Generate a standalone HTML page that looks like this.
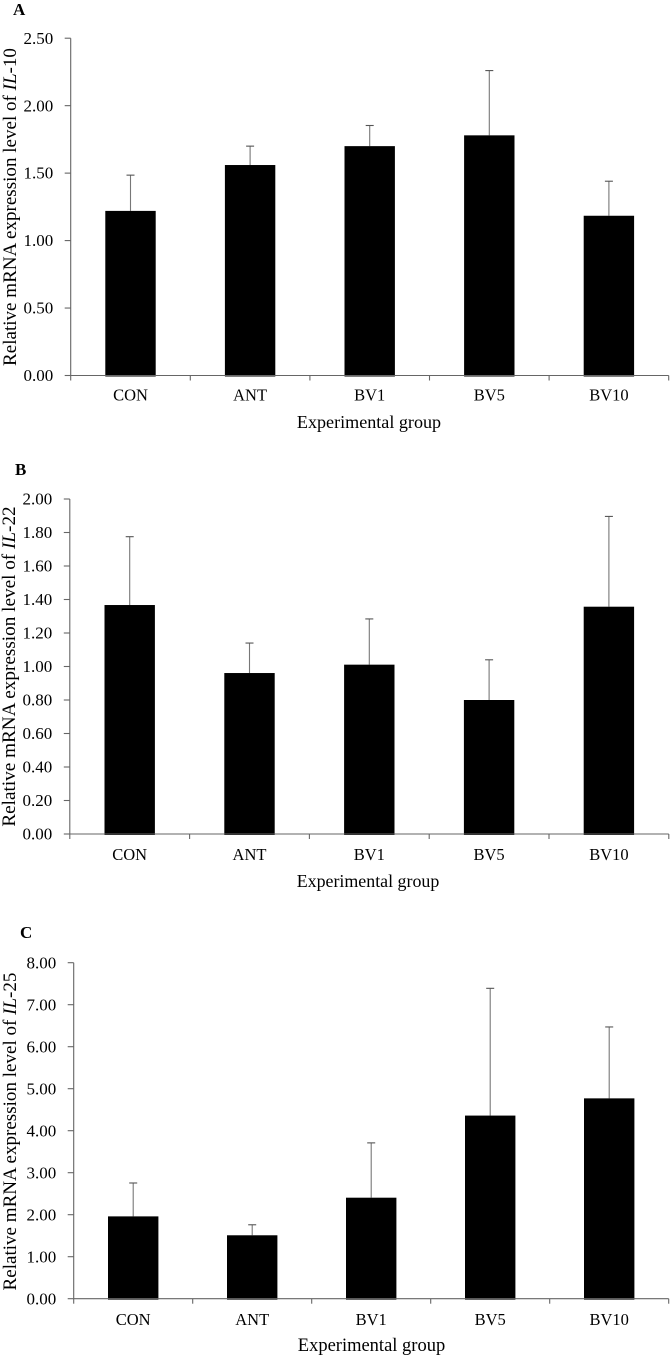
<!DOCTYPE html>
<html lang="en">
<head>
<meta charset="utf-8">
<title>Relative mRNA expression of IL-10, IL-22 and IL-25</title>
<style>
  html, body { margin: 0; padding: 0; background: #fff; }
  body { width: 672px; height: 1358px; overflow: hidden; }
  svg { display: block; filter: blur(0.3px); font-size: 16.5px; }
  text { font-family: "Liberation Serif", serif; fill: #000; }
</style>
</head>
<body>
<svg id="figure" xmlns="http://www.w3.org/2000/svg" width="672" height="1358" viewBox="0 0 672 1358"></svg>
<script>
const categories = ['CON', 'ANT', 'BV1', 'BV5', 'BV10'];

const il10Means = [1.22, 1.56, 1.70, 1.78, 1.184];
const il10Upper = [1.485, 1.70, 1.853, 2.26, 1.44];
const il10Ticks = ['0.00', '0.50', '1.00', '1.50', '2.00', '2.50'];

const il22Means = [1.367, 0.961, 1.011, 0.80, 1.357];
const il22Upper = [1.775, 1.14, 1.284, 1.04, 1.896];
const il22Ticks = ['0.00', '0.20', '0.40', '0.60', '0.80', '1.00', '1.20', '1.40', '1.60', '1.80', '2.00'];

const il25Means = [1.96, 1.51, 2.405, 4.36, 4.77];
const il25Upper = [2.755, 1.76, 3.71, 7.39, 6.47];
const il25Ticks = ['0.00', '1.00', '2.00', '3.00', '4.00', '5.00', '6.00', '7.00', '8.00'];

const NS = 'http://www.w3.org/2000/svg';
const figure = document.getElementById('figure');
const AXIS_COLOR = '#666';
const ERROR_COLOR = '#777';

function make(parent, tag, attrs) {
  const el = document.createElementNS(NS, tag);
  for (const key in attrs) el.setAttribute(key, attrs[key]);
  parent.appendChild(el);
  return el;
}

function drawPanel(p) {
  const yMax = parseFloat(p.ticks[p.ticks.length - 1]);
  const yScale = v => p.y0 - (v / yMax) * (p.y0 - p.yTop);
  const xBand = i => p.x0 + i * p.step;
  const xCenter = i => xBand(i) + p.step / 2;

  const group = make(figure, 'g', {});
  
  

  const letter = make(group, 'text', { x: p.letterX, y: p.letterY, 'font-weight': 'bold', 'font-size': '17' });
  
  
  letter.textContent = p.letter;

  categories.forEach((c, i) => {
    const top = yScale(p.means[i]);
    const errTop = yScale(p.upper[i]);
    const cx = xCenter(i);

    const stem = make(group, 'line', { x1: cx, x2: cx, y1: errTop, y2: top, stroke: ERROR_COLOR, 'stroke-width': 1.1 });
    
    

    const cap = make(group, 'line', { x1: cx - 4, x2: cx + 4, y1: errTop, y2: errTop, stroke: '#555', 'stroke-width': 1.1 });
    
    

    const bar = make(group, 'rect', { x: cx - 25.2, y: top, width: 50.4, height: p.y0 + 1 - top, fill: '#000' });
    
    

    const label = make(group, 'text', { x: cx, y: p.catY, 'text-anchor': 'middle' });
    
    
    label.textContent = c;
  });

  const yAxis = make(group, 'line', { x1: p.x0, x2: p.x0, y1: p.yTop, y2: p.y0, stroke: AXIS_COLOR, 'stroke-width': 1.1 });
  
  

  const xAxis = make(group, 'line', { x1: p.x0, x2: xBand(categories.length), y1: p.y0, y2: p.y0, stroke: AXIS_COLOR, 'stroke-width': 1.1 });
  
  

  for (let i = 0; i <= categories.length; i++) {
    const tick = make(group, 'line', { x1: xBand(i), x2: xBand(i), y1: p.y0, y2: p.y0 + 5, stroke: AXIS_COLOR, 'stroke-width': 1.1 });
    
    
  }

  p.ticks.forEach(t => {
    const y = yScale(parseFloat(t));
    const tick = make(group, 'line', { x1: p.x0 - 6, x2: p.x0, y1: y, y2: y, stroke: AXIS_COLOR, 'stroke-width': 1.1 });
    
    

    const label = make(group, 'text', { x: p.x0 - 17.5, y: y + 5.6, 'text-anchor': 'end', 'font-size': '17' });
    
    
    label.textContent = t;
  });

  const yTitle = make(group, 'text', {
    x: 0, y: 0, 'text-anchor': 'middle', 'font-size': p.yTitleSize,
    transform: `translate(${p.yTitleX} ${p.yTitleCenter}) rotate(-90)`
  });
  
  
  yTitle.appendChild(document.createTextNode('Relative mRNA expression level of '));
  const gene = make(yTitle, 'tspan', { 'font-style': 'italic' });
  gene.textContent = 'IL';
  yTitle.appendChild(document.createTextNode('-' + p.gene));

  const xTitle = make(group, 'text', { x: p.xTitleX, y: p.xTitleY, 'text-anchor': 'middle', 'font-size': p.xTitleSize });
  
  
  xTitle.textContent = 'Experimental group';
}

drawPanel({
  letter: 'A', letterX: 13, letterY: 15, gene: '10',
  means: il10Means, upper: il10Upper, ticks: il10Ticks,
  x0: 70.7, step: 119.6, yTop: 38.2, y0: 375.5,
  catY: 400.5, xTitleX: 369, xTitleY: 428, xTitleSize: 18.1,
  yTitleX: 16, yTitleCenter: 207, yTitleSize: 19.06
});

drawPanel({
  letter: 'B', letterX: 15, letterY: 475, gene: '22',
  means: il22Means, upper: il22Upper, ticks: il22Ticks,
  x0: 69.8, step: 119.8, yTop: 499, y0: 834,
  catY: 860, xTitleX: 368, xTitleY: 887, xTitleSize: 17.9,
  yTitleX: 15, yTitleCenter: 666.5, yTitleSize: 19.2
});

drawPanel({
  letter: 'C', letterX: 20, letterY: 938, gene: '25',
  means: il25Means, upper: il25Upper, ticks: il25Ticks,
  x0: 73.7, step: 119, yTop: 962.7, y0: 1298.7,
  catY: 1325, xTitleX: 371.5, xTitleY: 1351, xTitleSize: 18.5,
  yTitleX: 16, yTitleCenter: 1131.5, yTitleSize: 19.06
});
</script>
</body>
</html>
